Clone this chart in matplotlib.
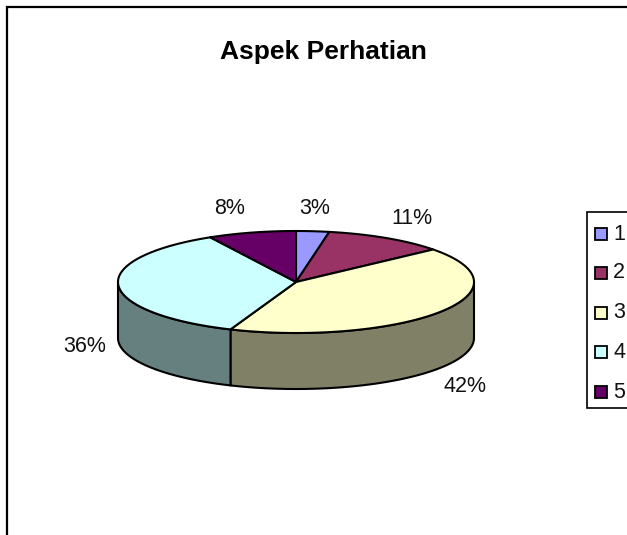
import numpy as np
import matplotlib
matplotlib.use("Agg")
import matplotlib.pyplot as plt
from matplotlib.patches import Polygon, Rectangle

# DATA
title = "Aspek Perhatian"
categories = ["1", "2", "3", "4", "5"]
values = [3, 11, 42, 36, 8]
colors = ["#9999FF", "#993366", "#FFFFCC", "#CCFFFF", "#660066"]
side_colors = ["#4D4D80", "#4D1A33", "#808066", "#668080", "#330033"]

# pie geometry in pixels
cx, cy = 296, 282
rx, ry = 178, 51
depth = 56

label_pos = [(315, 209), (412, 218), (465, 387), (85, 346), (230, 209)]

plt.rcParams["font.family"] = ["Liberation Sans", "DejaVu Sans"]

fig = plt.figure(figsize=(6.27, 5.35), dpi=100)
ax = fig.add_axes([0, 0, 1, 1])
ax.set_xlim(0, 627)
ax.set_ylim(535, 0)
ax.axis("off")

# chart frame, only left and top are visible in the crop
ax.plot([7, 7, 627], [535, 7, 7], color="black", lw=1.6, solid_joinstyle="miter")

ax.text(323, 52, title, ha="center", va="center", fontsize=19, fontweight="bold")


def rim(a, b, dy=0):
    t = np.radians(np.linspace(a, b, 120))
    return np.column_stack([cx + rx * np.sin(t), cy - ry * np.cos(t) + dy])


edges = np.concatenate([[0], np.cumsum(values)]) / sum(values) * 360

# side wall, front half only
for i in range(len(values)):
    a = max(edges[i], 90)
    b = min(edges[i + 1], 270)
    if a < b:
        pts = np.vstack([rim(a, b), rim(a, b, depth)[::-1]])
        ax.add_patch(Polygon(pts, closed=True, facecolor=side_colors[i],
                             edgecolor="black", lw=1.5, joinstyle="round"))

# top face
for i in range(len(values)):
    pts = np.vstack([[cx, cy], rim(edges[i], edges[i + 1])])
    ax.add_patch(Polygon(pts, closed=True, facecolor=colors[i],
                         edgecolor="black", lw=1.5, joinstyle="round"))

for v, (x, y) in zip(values, label_pos):
    ax.text(x, y, f"{v}%", ha="center", va="center", fontsize=15.5, color="#111111")

# legend
ax.plot([627, 587, 587, 627], [212, 212, 408, 408], color="black", lw=1.2,
        solid_joinstyle="miter")
legend_y = [234, 273, 313, 352, 392]
for name, col, y in zip(categories, colors, legend_y):
    ax.add_patch(Rectangle((595, y - 6), 12, 12, facecolor=col, edgecolor="black", lw=1.3))
    ax.text(613, y, name, ha="left", va="center", fontsize=15.5, color="#111111")

fig.savefig("out.png", dpi=100)
